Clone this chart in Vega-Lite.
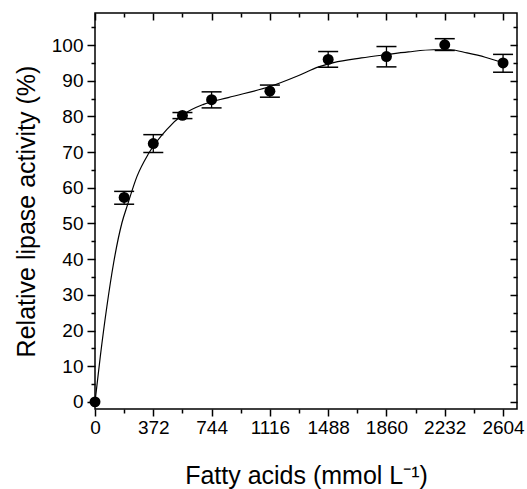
{
  "$schema": "https://vega.github.io/schema/vega-lite/v6.json",
  "width": 422,
  "height": 396,
  "autosize": "none",
  "padding": {"left": 95, "top": 13, "right": 10, "bottom": 80},
  "background": "white",
  "config": {
    "font": "Liberation Sans",
    "view": {"stroke": "black", "strokeWidth": 1.5},
    "axis": {
      "grid": false,
      "domainColor": "black",
      "tickColor": "black",
      "labelColor": "black",
      "titleColor": "black",
      "labelFont": "Liberation Sans",
      "titleFont": "Liberation Sans",
      "labelFontSize": 19,
      "titleFontSize": 25,
      "titleFontWeight": "normal",
      "tickWidth": 1.5,
      "domainWidth": 1.5
    }
  },
  "datasets": {
    "curve": [
      {"x": 0, "y": 0},
      {"x": 34, "y": 12.8},
      {"x": 76, "y": 26.8},
      {"x": 119, "y": 39},
      {"x": 172, "y": 50.2},
      {"x": 208, "y": 55.3},
      {"x": 268, "y": 63.2},
      {"x": 342, "y": 69.6},
      {"x": 459, "y": 76.4},
      {"x": 565, "y": 80.6},
      {"x": 693, "y": 83.4},
      {"x": 850, "y": 85.3},
      {"x": 1116, "y": 88.4},
      {"x": 1300, "y": 91.5},
      {"x": 1427, "y": 93.9},
      {"x": 1523, "y": 95.1},
      {"x": 1700, "y": 96.4},
      {"x": 1853, "y": 97.3},
      {"x": 2000, "y": 98.1},
      {"x": 2161, "y": 98.7},
      {"x": 2268, "y": 98.7},
      {"x": 2374, "y": 97.8},
      {"x": 2490, "y": 96.6},
      {"x": 2604, "y": 95.0}
    ],
    "pts": [
      {"x": 0, "y": 0, "lo": null, "hi": null},
      {"x": 186, "y": 57.3, "lo": 55.4, "hi": 59.0},
      {"x": 372, "y": 72.4, "lo": 69.9, "hi": 74.9},
      {"x": 558, "y": 80.3, "lo": 79.4, "hi": 81.1},
      {"x": 744, "y": 84.7, "lo": 82.4, "hi": 86.9},
      {"x": 1116, "y": 87.1, "lo": 85.4, "hi": 88.8},
      {"x": 1488, "y": 96.0, "lo": 93.8, "hi": 98.2},
      {"x": 1860, "y": 96.8, "lo": 93.9, "hi": 99.6},
      {"x": 2232, "y": 100.1, "lo": 98.5, "hi": 101.8},
      {"x": 2604, "y": 95.0, "lo": 92.4, "hi": 97.4}
    ]
  },
  "resolve": {"axis": {"x": "independent", "y": "independent"}},
  "layer": [
    {
      "data": {"name": "curve"},
      "mark": {"type": "line", "interpolate": "monotone", "color": "black", "strokeWidth": 1.2},
      "encoding": {
        "x": {"field": "x", "type": "quantitative",
          "scale": {"domain": [0, 2693], "nice": false, "zero": false},
          "axis": {"orient": "bottom", "values": [0, 372, 744, 1116, 1488, 1860, 2232, 2604], "format": "d", "tickSize": 7, "labelPadding": 2, "labelFlush": false, "labelOverlap": false, "domain": false, "title": "Fatty acids (mmol L⁻¹)", "titlePadding": 26}},
        "y": {"field": "y", "type": "quantitative",
          "scale": {"domain": [-2, 109], "nice": false, "zero": false},
          "axis": {"orient": "left", "values": [0, 10, 20, 30, 40, 50, 60, 70, 80, 90, 100], "format": "d", "tickSize": 8, "labelPadding": 4, "labelFlush": false, "labelOverlap": false, "domain": false, "title": "Relative lipase activity (%)", "titlePadding": 12}}
      }
    },
    {
      "data": {"name": "pts"},
      "mark": {"type": "rule", "color": "black", "strokeWidth": 1.3},
      "encoding": {
        "x": {"field": "x", "type": "quantitative",
          "scale": {"domain": [0, 2693], "nice": false, "zero": false},
          "axis": {"orient": "bottom", "values": [186, 558, 930, 1302, 1674, 2046, 2418], "tickSize": 4, "labels": false, "domain": false, "title": null}},
        "y": {"field": "lo", "type": "quantitative",
          "scale": {"domain": [-2, 109], "nice": false, "zero": false},
          "axis": {"orient": "left", "values": [5, 15, 25, 35, 45, 55, 65, 75, 85, 95, 105], "tickSize": 4, "labels": false, "domain": false, "title": null}},
        "y2": {"field": "hi"}
      }
    },
    {
      "data": {"name": "pts"},
      "mark": {"type": "point", "filled": true, "color": "black", "opacity": 1, "size": 120},
      "encoding": {
        "x": {"field": "x", "type": "quantitative",
          "scale": {"domain": [0, 2693], "nice": false, "zero": false},
          "axis": {"orient": "top", "values": [0, 372, 744, 1116, 1488, 1860, 2232, 2604], "tickSize": -7, "labels": false, "domain": false, "title": null}},
        "y": {"field": "y", "type": "quantitative",
          "scale": {"domain": [-2, 109], "nice": false, "zero": false},
          "axis": {"orient": "right", "values": [0, 10, 20, 30, 40, 50, 60, 70, 80, 90, 100], "tickSize": -7, "labels": false, "domain": false, "title": null}}
      }
    },
    {
      "data": {"name": "pts"},
      "mark": {"type": "tick", "orient": "horizontal", "color": "black", "size": 20, "thickness": 1.5, "opacity": 1},
      "encoding": {
        "x": {"field": "x", "type": "quantitative",
          "scale": {"domain": [0, 2693], "nice": false, "zero": false},
          "axis": {"orient": "top", "values": [186, 558, 930, 1302, 1674, 2046, 2418], "tickSize": -4, "labels": false, "domain": false, "title": null}},
        "y": {"field": "lo", "type": "quantitative",
          "scale": {"domain": [-2, 109], "nice": false, "zero": false},
          "axis": {"orient": "right", "values": [5, 15, 25, 35, 45, 55, 65, 75, 85, 95, 105], "tickSize": -4, "labels": false, "domain": false, "title": null}}
      }
    },
    {
      "data": {"name": "pts"},
      "mark": {"type": "tick", "orient": "horizontal", "color": "black", "size": 20, "thickness": 1.5, "opacity": 1},
      "encoding": {
        "x": {"field": "x", "type": "quantitative",
          "scale": {"domain": [0, 2693], "nice": false, "zero": false},
          "axis": null},
        "y": {"field": "hi", "type": "quantitative",
          "scale": {"domain": [-2, 109], "nice": false, "zero": false},
          "axis": null}
      }
    }
  ]
}
